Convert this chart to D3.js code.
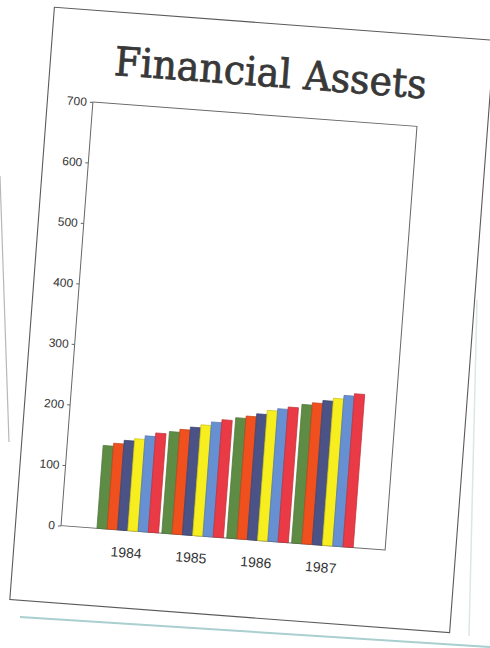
<!DOCTYPE html>
<html>
<head>
<meta charset="utf-8">
<script src="https://cdn.jsdelivr.net/npm/d3@7/dist/d3.min.js"></script>
<style>
  html, body { margin: 0; padding: 0; background: #ffffff; }
  svg { display: block; }
</style>
</head>
<body>
<div id="chart"></div>
<script>
// ---- data ----
const years = ["1984", "1985", "1986", "1987"];
const seriesNames = ["S1", "S2", "S3", "S4", "S5", "S6"];
const seriesColors = ["#5f8c44", "#f0501e", "#4a5286", "#f6ee1e", "#6690d2", "#ea3a46"];
const series1 = [137, 168, 199, 229];
const series2 = [142, 173, 203, 233];
const series3 = [148, 178, 208, 238];
const series4 = [152, 183, 215, 243];
const series5 = [158, 189, 219, 249];
const series6 = [164, 194, 223, 253];
const yTicks = [0, 100, 200, 300, 400, 500, 600, 700];
const title = "Financial Assets";

const allSeries = [series1, series2, series3, series4, series5, series6];

// ---- layout ----
const W = 490, H = 648;
const angle = 4.3, cx = 239, cy = 326;
const page = { x0: 31, y0: 22, x1: 472, y1: 616 };
const plot = { x0: 76.5, y0: 113.6, x1: 401.5, y1: 538.4 };

const svg = d3.select("#chart").append("svg")
  .attr("width", W).attr("height", H);

svg.append("rect").attr("width", W).attr("height", H).attr("fill", "#ffffff");

// background sheet edges (photo)
svg.append("line").attr("x1", 0).attr("y1", 176).attr("x2", 9).attr("y2", 442)
  .attr("stroke", "#b8b8b8").attr("stroke-width", 1.2);
svg.append("line").attr("x1", 20).attr("y1", 617).attr("x2", 490).attr("y2", 647)
  .attr("stroke", "#a9cfd0").attr("stroke-width", 2);
svg.append("line").attr("x1", 477).attr("y1", 300).attr("x2", 469).attr("y2", 636)
  .attr("stroke", "#dbe6e6").attr("stroke-width", 1.5);

const g = svg.append("g").attr("transform", `rotate(${angle},${cx},${cy})`);

// page
g.append("rect")
  .attr("x", page.x0).attr("y", page.y0)
  .attr("width", page.x1 - page.x0).attr("height", page.y1 - page.y0)
  .attr("fill", "#ffffff").attr("stroke", "#5a5a5a").attr("stroke-width", 1.1);

// title
g.append("text")
  .attr("x", (page.x0 + page.x1) / 2).attr("y", 85)
  .attr("text-anchor", "middle")
  .attr("font-family", "'DejaVu Serif', 'Liberation Serif', serif")
  .attr("font-size", 40)
  .attr("textLength", 313).attr("lengthAdjust", "spacingAndGlyphs")
  .attr("fill", "#383838")
  .attr("stroke", "#383838").attr("stroke-width", 0.8)
  .text(title);

// scales
const y = d3.scaleLinear().domain([0, 700]).range([plot.y1, plot.y0]);
const x0 = d3.scaleBand().domain(years).range([plot.x0 + 36, plot.x0 + 293]).paddingInner(0.05);
const x1 = d3.scaleBand().domain(d3.range(seriesNames.length)).range([0, x0.bandwidth()]).padding(0);

// frame
g.append("rect")
  .attr("x", plot.x0).attr("y", plot.y0)
  .attr("width", plot.x1 - plot.x0).attr("height", plot.y1 - plot.y0)
  .attr("fill", "none").attr("stroke", "#666").attr("stroke-width", 1);

// bars
const groups = g.append("g").selectAll("g").data(years).join("g")
  .attr("transform", d => `translate(${x0(d)},0)`);
groups.selectAll("rect")
  .data((d, i) => allSeries.map((s, k) => ({ k, v: s[i] })))
  .join("rect")
  .attr("x", d => x1(d.k))
  .attr("y", d => y(d.v))
  .attr("width", x1.bandwidth())
  .attr("height", d => y(0) - y(d.v))
  .attr("fill", d => seriesColors[d.k])
  .attr("stroke", d => d3.color(seriesColors[d.k]).darker(0.6))
  .attr("stroke-width", 0.7);

// y axis
const yAxis = g.append("g").attr("transform", `translate(${plot.x0},0)`)
  .call(d3.axisLeft(y).tickValues(yTicks).tickSize(3).tickPadding(3).tickFormat(d3.format("d")));
yAxis.select(".domain").remove();
yAxis.selectAll(".tick line").attr("stroke", "#666");
yAxis.selectAll(".tick text")
  .attr("font-family", "'Liberation Sans', Arial, sans-serif")
  .attr("font-size", 12).attr("fill", "#333");

// x axis labels
const xAxis = g.append("g").attr("transform", `translate(0,${plot.y1})`)
  .call(d3.axisBottom(x0).tickSize(0).tickPadding(17));
xAxis.select(".domain").remove();
xAxis.selectAll(".tick text")
  .attr("font-family", "'Liberation Sans', Arial, sans-serif")
  .attr("font-size", 14).attr("fill", "#333");
</script>
</body>
</html>
